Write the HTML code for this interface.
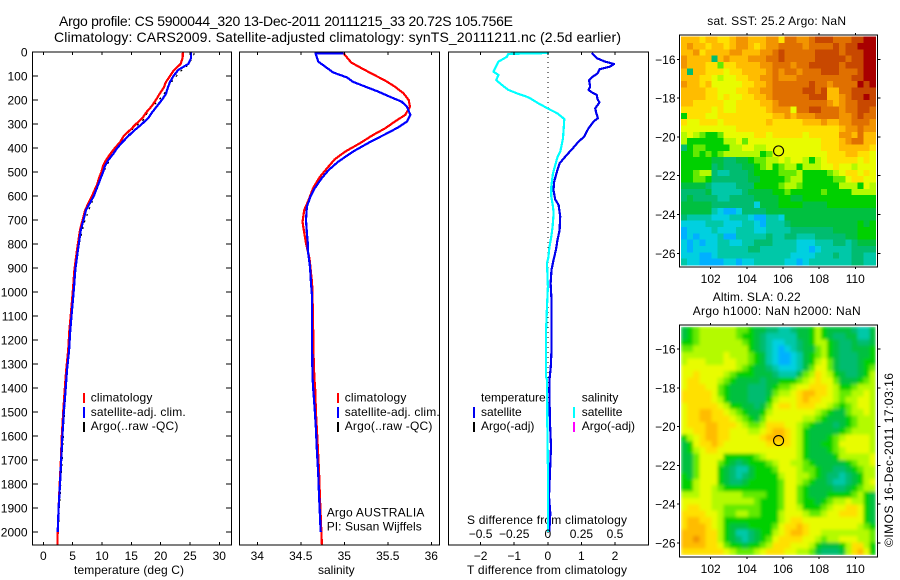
<!DOCTYPE html>
<html lang="en">
<head>
<meta charset="utf-8">
<title>Argo profile CS 5900044_320</title>
<style>
html,body{margin:0;padding:0;background:#fff;}
#chart{display:block;width:900px;height:580px;}
text{font-family:"Liberation Sans",Arial,sans-serif;font-size:12px;fill:#000;}
.title{font-size:14px;}
.crisp{shape-rendering:crispEdges;}
</style>
</head>
<body>
<svg id="chart" xmlns="http://www.w3.org/2000/svg" width="900" height="580" viewBox="0 0 900 580">
  <defs>
    <filter id="soften" x="-2%" y="-2%" width="104%" height="104%"><feGaussianBlur stdDeviation="1.6"/></filter>
    <clipPath id="sla-clip"><rect x="681" y="326.7" width="194.7" height="228.3"/></clipPath>
  </defs>
  <text class="title" x="59" y="26" textLength="454" lengthAdjust="spacing">Argo profile: CS 5900044_320 13-Dec-2011 20111215_33 20.72S 105.756E</text>
  <text class="title" x="54" y="42" textLength="567" lengthAdjust="spacing">Climatology: CARS2009. Satellite-adjusted climatology: synTS_20111211.nc (2.5d earlier)</text>

  <text x="74" y="574" textLength="110" lengthAdjust="spacing">temperature (deg C)</text>
  <text x="318" y="574">salinity</text>
  <text x="467" y="574" textLength="160" lengthAdjust="spacing">T difference from climatology</text>
  <text x="467" y="524" textLength="160" lengthAdjust="spacing">S difference from climatology</text>

  <text x="326.7" y="516.7" textLength="97.7" lengthAdjust="spacing">Argo AUSTRALIA</text>
  <text x="326.7" y="530.7" textLength="95" lengthAdjust="spacing">PI: Susan Wijffels</text>

  <g>
    <rect class="crisp" x="83" y="393" width="2" height="10" fill="#ff0000"/>
    <text x="90.7" y="401.7" textLength="61.7" lengthAdjust="spacing">climatology</text>
    <rect class="crisp" x="83" y="407" width="2" height="11" fill="#0000ff"/>
    <text x="90.7" y="416" textLength="95" lengthAdjust="spacing">satellite-adj. clim.</text>
    <rect class="crisp" x="83" y="422" width="2" height="10" fill="#000"/>
    <text x="90.7" y="430" textLength="87.7" lengthAdjust="spacing">Argo(..raw -QC)</text>
  </g>
  <g>
    <rect class="crisp" x="337" y="393" width="2" height="10" fill="#ff0000"/>
    <text x="344.7" y="401.7" textLength="61.7" lengthAdjust="spacing">climatology</text>
    <rect class="crisp" x="337" y="407" width="2" height="11" fill="#0000ff"/>
    <text x="344.7" y="416" textLength="95" lengthAdjust="spacing">satellite-adj. clim.</text>
    <rect class="crisp" x="337" y="422" width="2" height="10" fill="#000"/>
    <text x="344.7" y="430" textLength="87.7" lengthAdjust="spacing">Argo(..raw -QC)</text>
  </g>
  <g>
    <text x="481" y="401.7">temperature</text>
    <rect class="crisp" x="473" y="407" width="2" height="11" fill="#0000ee"/>
    <text x="481" y="416">satellite</text>
    <rect class="crisp" x="473" y="422" width="2" height="10" fill="#000"/>
    <text x="481" y="430">Argo(-adj)</text>
    <text x="581.7" y="401.7">salinity</text>
    <rect class="crisp" x="573" y="407" width="2" height="11" fill="#00ffff"/>
    <text x="581.7" y="416">satellite</text>
    <rect class="crisp" x="573" y="422" width="2" height="10" fill="#ff00ff"/>
    <text x="581.7" y="430">Argo(-adj)</text>
  </g>

  <text x="707.3" y="25" textLength="138.7" lengthAdjust="spacing">sat. SST: 25.2 Argo: NaN</text>
  <text x="712.7" y="301" textLength="88" lengthAdjust="spacing">Altim. SLA: 0.22</text>
  <text x="692.7" y="315" textLength="168" lengthAdjust="spacing">Argo h1000: NaN h2000: NaN</text>
  <text transform="translate(893 547) rotate(-90)" textLength="174" lengthAdjust="spacing">©IMOS 16-Dec-2011 17:03:16</text>
</svg>

<script>
/* ---------- depth axis ---------- */
const depthTicks = [0,100,200,300,400,500,600,700,800,900,1000,1100,1200,1300,1400,1500,1600,1700,1800,1900,2000];

/* ---------- temperature panel ---------- */
const tempTicks = [0,5,10,15,20,25,30];
const tempClimDepth = [0,25,50,75,100,125,150,175,200,225,250,275,300,325,350,375,400,425,450,475,500,525,550,600,658,742,825,908,992,1075,1158,1242,1325,1408,1500,1600,1700,1800,1900,2000,2054];
const tempClimValue = [23.8,23.75,23.4,22.3,21.6,20.9,20.5,19.8,19.2,18.5,17.6,16.9,15.8,14.8,13.7,13.1,12.2,11.4,10.7,10.2,9.9,9.5,9.2,8.3,7.15,6.25,5.75,5.3,5.05,4.75,4.45,4.25,3.9,3.65,3.4,3.15,3.0,2.8,2.6,2.45,2.4];
const tempSatDepth = [0,25,50,75,100,125,150,175,200,225,250,275,300,325,350,375,400,425,450,475,500,550,600,658,742,825,908,992,1075,1158,1242,1325,1408,1500,1600,1700,1800,1900,2000];
const tempSatValue = [25.2,25.2,24.7,23,22.2,21.6,21.2,20.9,20.2,19.4,18.6,17.9,16.8,15.6,14.5,13.5,12.6,11.9,11.1,10.5,10.2,9.4,8.6,7.3,6.4,5.9,5.45,5.2,4.9,4.6,4.4,4.04,3.8,3.5,3.25,3.05,2.85,2.6,2.45];
const tempArgoDepth = [6,22,54,82,124,179,200,242,280,318,346,367,380,420,500,600,700,800,900,1000,1200,1500,1700,1900,2000];
const tempArgoValue = [25.74,25.45,24.7,23.3,21.9,20.45,19.7,17.9,17.2,15.3,14.5,13.75,13.35,11.9,10.3,8.7,7.1,6.1,5.6,5.2,4.5,3.6,3.2,2.75,2.55];

/* ---------- salinity panel ---------- */
const salTicks = [34,34.5,35,35.5,36];
const salClimDepth = [5,44,68,93,119,144,172,200,228,262,290,318,346,380,415,447,485,520,568,617,658,707,755,797,860,964,1100,1242,1353,1408,1506,1575,1644,1755,1853,1964,2054];
const salClimValue = [34.99,35.08,35.2,35.33,35.47,35.58,35.68,35.74,35.755,35.7,35.58,35.47,35.33,35.18,35.01,34.89,34.8,34.72,34.64,34.59,34.54,34.52,34.54,34.56,34.6,34.63,34.64,34.645,34.655,34.665,34.675,34.685,34.695,34.71,34.72,34.732,34.742];
const salSatDepth = [5,6,40,61,85,106,124,144,165,186,207,228,262,290,314,339,374,415,457,492,526,568,603,644,700,755,797,825,895,964,1020,1242,1353,1408,1506,1575,1644,1755,1853,1964,2000];
const salSatValue = [34.99,34.67,34.7,34.78,34.87,35.03,35.1,35.24,35.39,35.52,35.66,35.72,35.76,35.72,35.62,35.49,35.3,35.1,34.93,34.82,34.74,34.66,34.61,34.57,34.56,34.57,34.58,34.58,34.606,34.617,34.63,34.63,34.634,34.644,34.663,34.675,34.683,34.7,34.71,34.724,34.729];

/* ---------- difference panel ---------- */
const diffTTicks = [-2,-1,0,1,2];
const diffSTicks = [-0.5,-0.25,0,0.25,0.5];
const diffTDepth = [5,26,40,50,61,72,89,106,117,144,158,168,179,197,210,235,253,276,290,318,353,374,397,436,464,499,540,575,614,637,686,742,783,825,867,908,964,1033,1242,1311,1360,1408,1547,1644,1728,1853,1922,2000];
const diffTValue = [1.31,1.46,1.7,1.97,1.85,1.54,1.48,1.31,1.23,1.26,1.21,1.31,1.46,1.48,1.54,1.41,1.44,1.49,1.36,1.21,1.08,0.91,0.77,0.52,0.35,0.27,0.19,0.17,0.22,0.32,0.37,0.35,0.29,0.24,0.17,0.11,0.083,0.11,0.11,0.09,0.054,0.044,0.065,0.095,0.07,0.036,0.074,0.044];
const diffSDepth = [4,8,20,40,82,96,117,137,158,172,189,214,237,255,279,318,360,415,436,471,505,561,603,644,672,728,769,811,860,880,978,1061,1158,1353,1367,1547,1728,2000];
const diffSValue = [0.01,-0.293,-0.304,-0.367,-0.404,-0.367,-0.384,-0.342,-0.293,-0.23,-0.143,-0.069,0.006,0.069,0.123,0.118,0.113,0.093,0.073,0.056,0.039,0.026,0.026,0.039,0.043,0.036,0.026,0.013,0.003,-0.006,0.001,-0.006,-0.013,-0.013,-0.006,-0.004,0.001,0.002];

/* ---------- maps ---------- */
const lonTicks = [102,104,106,108,110];
const latTicks = [-16,-18,-20,-22,-24,-26];
const floatLon = [105.756];
const floatLat = [-20.72];
const paletteColors = ["#0066ee","#00b0ff","#00d0e0","#00c8a8","#00bc70","#00c040","#00d000","#64ea00","#b4fa00","#e8fc00","#ffe000","#ffbc00","#f29400","#e07000","#c84800","#a80000"];

const sstGrid = [
[11,11,11,10,11,11,10,10,11,12,12,11,11,11,12,12,10,13,13,12,12,13,14,14,14,13,13,13,14,14,15,15],
[11,12,11,11,10,11,11,10,11,12,12,11,10,11,12,12,13,13,13,13,12,13,13,13,13,14,13,14,14,15,15,15],
[11,11,12,10,11,11,11,11,12,12,11,11,11,12,12,13,14,13,13,13,13,13,14,14,14,14,13,14,14,14,15,15],
[12,11,11,11,11,4,11,12,11,11,11,12,12,12,13,13,14,13,13,13,13,13,14,14,14,14,14,13,14,14,15,15],
[12,11,11,11,10,10,7,10,10,11,11,11,11,12,12,13,13,13,12,13,13,14,14,14,14,14,13,14,14,14,15,15],
[11,4,11,11,10,10,10,9,10,10,11,11,11,11,12,13,12,13,13,12,13,13,13,14,14,14,13,13,13,14,15,15],
[11,11,11,10,10,9,8,9,9,10,10,11,11,12,12,13,12,12,12,13,13,13,13,13,13,13,13,13,14,14,15,15],
[12,11,11,10,11,9,9,9,9,9,10,10,11,11,12,13,13,13,13,13,13,14,13,13,12,13,13,13,13,15,14,15],
[11,11,11,11,10,10,9,9,9,10,10,11,11,12,12,13,13,13,13,13,14,14,13,14,11,11,13,13,14,14,14,14],
[11,11,11,11,10,10,9,10,9,9,10,10,11,11,12,13,13,13,13,13,13,14,14,14,11,11,12,13,14,14,15,14],
[11,11,10,10,10,10,10,9,9,10,10,10,10,11,11,12,13,13,13,13,13,13,13,13,12,11,12,13,13,14,14,14],
[10,10,10,10,10,9,10,9,9,10,10,10,10,10,11,12,12,12,9,13,13,14,14,13,13,13,12,13,13,14,14,13],
[6,10,10,10,9,9,10,10,10,10,10,10,10,10,10,11,11,12,11,12,12,12,13,13,13,13,12,12,13,14,13,13],
[10,9,9,10,10,10,9,10,10,10,10,10,10,10,11,10,10,10,10,10,11,11,11,12,11,11,12,12,13,13,13,12],
[9,9,9,9,9,9,9,9,9,10,10,10,10,10,10,10,10,10,10,10,10,10,10,10,10,10,11,12,12,13,12,12],
[8,9,8,7,6,6,7,9,9,9,9,9,10,10,9,10,10,10,10,10,9,10,10,10,10,10,12,12,11,13,11,11],
[8,6,6,6,6,6,6,8,8,9,7,9,9,9,9,9,9,9,9,9,9,9,9,10,10,10,11,12,13,13,11,11],
[4,6,7,7,6,6,6,6,8,8,9,9,8,8,9,9,9,9,9,9,9,9,9,10,10,10,11,11,11,11,11,10],
[6,6,7,6,7,6,7,8,8,8,8,8,8,6,7,9,9,9,9,9,9,9,9,9,10,10,10,11,11,10,10,9],
[6,6,6,6,6,5,5,4,4,5,5,6,7,7,8,8,9,8,9,9,8,6,8,9,10,10,10,10,10,9,10,9],
[6,6,6,6,6,4,5,4,4,4,5,5,6,7,8,6,7,8,8,6,8,8,8,9,9,10,9,9,8,9,9,9],
[6,6,7,8,8,4,3,3,4,4,4,5,6,6,6,6,7,7,7,8,6,6,6,6,7,8,9,10,10,9,10,9],
[6,6,7,7,6,4,4,4,4,4,4,5,5,6,6,6,6,7,8,8,6,6,6,6,6,7,7,9,10,10,9,9],
[5,5,5,5,4,3,3,3,3,4,4,4,6,6,6,6,7,8,8,7,6,6,6,6,6,6,8,8,8,6,9,8],
[4,4,4,4,5,3,3,3,3,3,4,5,5,5,5,6,6,7,6,6,6,6,6,7,6,6,6,6,8,8,8,8],
[4,5,4,4,4,4,3,3,4,4,4,4,5,5,5,5,6,6,5,5,6,6,6,6,6,6,6,6,6,6,6,6],
[5,5,5,5,5,4,4,4,4,4,4,4,2,5,5,5,6,6,6,6,5,5,5,5,6,6,6,6,6,6,6,6],
[5,5,5,5,5,3,2,1,1,2,4,4,4,4,5,5,5,5,5,5,5,5,5,5,5,5,5,5,5,5,5,5],
[4,3,3,3,3,2,2,2,3,3,3,2,1,1,3,3,2,5,5,5,5,5,5,5,5,5,5,5,5,5,5,5],
[2,2,2,2,3,3,3,2,2,2,3,3,2,1,3,3,3,4,5,5,5,5,5,5,5,5,5,5,5,6,5,6],
[1,2,2,2,2,3,2,2,2,3,3,3,2,2,3,3,3,3,4,4,4,4,4,4,4,5,5,5,5,6,6,6],
[1,2,1,2,2,2,3,1,1,3,3,3,3,3,4,3,3,4,4,3,3,3,4,4,4,4,4,5,5,6,6,6],
[2,1,2,1,2,2,3,3,2,2,3,3,4,4,4,3,3,3,3,2,2,2,3,3,3,4,4,3,4,5,5,5],
[2,1,2,2,2,2,3,3,3,3,3,4,4,3,3,3,3,3,3,2,2,1,2,3,3,3,3,3,4,4,4,4],
[2,2,2,1,1,2,3,3,3,3,3,3,3,3,3,3,3,3,2,2,2,2,3,3,3,4,3,3,4,4,3,3],
[3,2,2,1,1,1,1,2,2,1,2,2,3,3,3,3,3,2,2,1,2,3,3,3,3,3,3,3,4,4,3,3]
];

const slaGrid = [
[5,6,7,8,8,8,8,8,8,7,7,6,5,5,4,4,3,3,4,5,5,6,8,6,5,5,5,5,4,3,3,5],
[5,6,7,8,8,8,8,8,8,7,6,6,5,4,3,3,3,3,3,5,5,6,8,6,5,4,4,5,5,3,3,5],
[6,6,7,8,8,8,8,8,8,8,7,6,5,4,3,2,2,3,3,4,5,6,8,8,6,5,4,4,5,4,4,5],
[7,7,8,8,8,8,8,8,8,8,8,6,5,4,3,2,1,2,3,4,5,5,7,8,6,5,4,4,5,5,5,6],
[8,8,8,8,8,8,8,9,8,8,8,7,6,5,3,2,1,1,2,3,5,6,7,8,6,5,4,4,4,5,5,6],
[8,9,9,9,8,8,8,9,9,8,8,7,6,5,3,2,1,1,2,3,5,6,8,9,7,5,4,4,4,5,6,6],
[9,9,9,9,9,9,9,9,9,8,7,6,5,5,4,3,2,2,2,3,5,7,9,9,7,5,4,4,4,5,6,7],
[9,9,10,9,9,9,9,8,7,6,6,6,5,5,5,4,3,3,3,5,7,8,10,9,8,6,5,4,4,5,6,8],
[9,10,10,9,9,9,8,7,6,5,5,5,5,4,5,5,6,6,6,7,8,9,10,9,9,7,5,5,5,6,7,8],
[9,10,10,10,9,9,7,6,5,5,5,4,4,4,5,6,7,7,8,9,9,10,10,10,9,8,6,6,7,8,8,8],
[10,10,10,10,10,9,7,6,5,5,5,4,4,4,5,7,8,8,9,10,11,11,10,10,9,8,7,7,8,8,9,8],
[10,10,10,10,10,9,8,6,5,5,5,4,4,4,6,8,9,9,9,10,11,10,10,9,9,8,7,8,8,9,9,8],
[9,10,10,10,10,10,9,8,6,6,5,5,4,5,7,9,10,10,9,10,10,10,9,9,8,7,6,7,8,9,9,8],
[9,10,10,11,11,10,10,9,8,7,6,5,5,6,8,9,9,9,9,9,9,9,8,7,6,5,5,7,8,8,9,8],
[9,10,10,11,11,10,10,10,9,8,7,6,5,7,9,9,9,9,9,9,8,8,7,6,5,5,5,6,7,8,8,8],
[9,10,10,10,11,11,10,10,10,9,8,7,7,8,10,10,10,9,9,8,7,6,5,5,5,4,5,6,7,8,8,8],
[9,9,10,10,11,11,10,10,9,9,9,8,8,9,10,11,11,10,9,8,6,5,5,5,5,5,6,7,8,8,8,8],
[6,8,9,10,11,11,10,10,9,9,9,9,9,10,11,11,11,10,9,8,6,5,5,5,6,7,8,9,9,9,9,8],
[5,6,9,10,10,11,10,9,9,9,9,9,9,9,10,10,10,10,9,8,6,5,5,6,6,7,9,9,9,9,9,8],
[5,6,8,9,10,10,9,9,9,9,9,9,9,9,9,9,9,9,9,8,6,5,5,5,6,7,8,9,9,9,9,8],
[5,5,7,9,9,9,9,6,6,6,6,6,7,8,9,9,9,9,9,8,6,5,5,5,5,6,8,8,8,8,8,9],
[5,5,7,9,9,9,7,6,5,4,5,6,6,6,7,8,9,9,8,8,7,6,5,5,5,5,5,6,7,8,8,9],
[5,5,7,9,9,9,6,5,4,3,3,5,6,6,6,7,9,9,9,8,7,7,6,5,5,4,4,5,6,7,8,8],
[6,5,7,9,9,9,6,5,4,3,4,5,6,6,6,6,8,9,9,8,8,7,6,5,4,4,3,4,5,6,8,8],
[6,6,8,9,9,9,6,5,4,4,5,6,6,6,6,6,7,9,9,8,7,6,5,5,4,3,3,4,5,6,8,9],
[6,6,8,9,9,8,7,6,6,6,6,6,6,6,6,6,7,9,9,7,6,5,5,5,5,4,4,5,6,7,8,8],
[8,8,8,9,9,8,8,8,8,8,7,7,7,7,6,6,7,9,9,7,6,5,5,5,6,6,6,6,7,8,6,5],
[9,9,9,9,9,8,8,8,8,8,8,8,7,6,6,6,7,9,9,7,6,6,5,6,7,8,8,9,8,8,6,5],
[9,10,10,9,9,8,8,7,7,7,7,7,7,6,6,6,7,9,9,8,6,6,6,7,8,9,9,10,10,9,6,5],
[10,10,10,10,9,9,8,7,7,8,8,7,7,6,6,6,8,9,9,9,8,7,7,8,9,9,10,10,10,9,6,5],
[10,11,11,10,10,9,8,6,6,6,6,6,6,6,6,6,8,9,10,10,9,9,9,9,9,9,9,9,9,9,6,5],
[10,11,11,11,10,9,8,6,5,5,5,6,6,6,6,7,9,10,10,11,10,9,9,9,9,9,9,9,9,8,7,6],
[11,11,11,11,10,10,8,6,5,3,3,4,5,6,6,8,9,10,11,11,10,9,9,8,8,8,8,8,8,8,8,7],
[11,11,12,11,10,10,8,6,5,4,3,4,5,6,7,9,10,10,10,10,9,9,8,7,8,8,9,9,9,8,8,7],
[11,11,11,11,10,10,9,7,6,6,5,6,6,7,8,10,10,10,9,9,9,8,6,5,5,5,6,8,10,10,8,6],
[10,10,10,10,10,10,10,9,8,7,7,7,8,9,10,10,10,9,9,8,8,7,5,4,4,4,5,8,10,11,9,6]
];

/* ---------- helpers ---------- */
const NS = "http://www.w3.org/2000/svg";
const svg = document.getElementById("chart");

function make(tag, attrs, parent, txt) {
  const el = document.createElementNS(NS, tag);
  for (const k in attrs) el.setAttribute(k, attrs[k]);
  if (txt !== undefined) el.textContent = txt;
  parent.appendChild(el);
  return el;
}
function fmt(v) { return String(v).replace("-", "\u2212"); }

/* axis functions */
const yDepth = d => 52 + d * 0.24;
const xTemp = t => 43.3 + t * 5.867;
const xSal = s => 257.3 + (s - 34) * 87;
const xDiffT = t => 547.8 + t * 33.6;
const xDiffS = s => 547.8 + s * 134.4;
const lonX = lon => 710.7 + (lon - 102) * 18.07;
const latYTop = lat => 59.3 + (-16 - lat) * 19.4;
const latYBottom = lat => 349 + (-16 - lat) * 19.4;

function series(parent, depths, values, xFn, color, width, dash, name) {
  const pts = depths.map((d, i) => xFn(values[i]).toFixed(1) + "," + yDepth(d).toFixed(1)).join(" ");
  const attrs = {points: pts, fill: "none", stroke: color, "stroke-width": width, "stroke-linejoin": "round", "shape-rendering": "crispEdges"};
  if (dash) attrs["stroke-dasharray"] = dash;
  const line = make("polyline", attrs, parent);
  
  
  return line;
}

function box(parent, x0, y0, x1, y1, name) {
  const r = make("rect", {x: x0, y: y0, width: x1 - x0, height: y1 - y0, fill: "none", stroke: "#000", "stroke-width": 1.4, "shape-rendering": "crispEdges"}, parent);
  
  
}

function tick(parent, x1, y1, x2, y2) {
  const t = make("line", {x1: x1, y1: y1, x2: x2, y2: y2, stroke: "#000", "stroke-width": 1, "shape-rendering": "crispEdges"}, parent);
  
  
}

function label(parent, x, y, s, anchor) {
  const t = make("text", {x: x, y: y, "text-anchor": anchor}, parent, s);
  
  
}

const TOP = 52, BOTTOM = 545;

/* ---------- panel 1: temperature ---------- */
const p1 = make("g", {}, svg);


series(p1, tempArgoDepth, tempArgoValue, xTemp, "#000", 1.2, "2 5", "argo-temperature-line");
series(p1, tempClimDepth, tempClimValue, xTemp, "#ff0000", 2.2, null, "climatology-temperature-line");
series(p1, tempSatDepth, tempSatValue, xTemp, "#0000ff", 2.2, null, "satellite-temperature-line");
box(p1, 32.5, TOP, 231.5, BOTTOM, "temperature-axes-frame");
depthTicks.forEach(d => {
  tick(p1, 32.5, yDepth(d), 38, yDepth(d));
  tick(p1, 226, yDepth(d), 231.5, yDepth(d));
  label(p1, 27.5, yDepth(d) + 4.5, String(d), "end");
});
tempTicks.forEach(t => {
  tick(p1, xTemp(t), TOP, xTemp(t), TOP + 3);
  tick(p1, xTemp(t), BOTTOM - 3, xTemp(t), BOTTOM);
  label(p1, xTemp(t), 560, String(t), "middle");
});

/* ---------- panel 2: salinity ---------- */
const p2 = make("g", {}, svg);


series(p2, salClimDepth, salClimValue, xSal, "#ff0000", 2.2, null, "climatology-salinity-line");
series(p2, salSatDepth, salSatValue, xSal, "#0000ff", 2.2, null, "satellite-salinity-line");
box(p2, 239.5, TOP, 439.5, BOTTOM, "salinity-axes-frame");
salTicks.forEach(s => {
  tick(p2, xSal(s), TOP, xSal(s), TOP + 3);
  tick(p2, xSal(s), BOTTOM - 3, xSal(s), BOTTOM);
  label(p2, xSal(s), 560, String(s), "middle");
});

/* ---------- panel 3: differences ---------- */
const p3 = make("g", {}, svg);


const zero = make("line", {x1: xDiffT(0), y1: TOP, x2: xDiffT(0), y2: BOTTOM, stroke: "#000", "stroke-width": 1, "stroke-dasharray": "1 4", "shape-rendering": "crispEdges"}, p3);


series(p3, diffTDepth, diffTValue, xDiffT, "#0000ee", 2.2, null, "satellite-t-difference-line");
series(p3, diffSDepth, diffSValue, xDiffS, "#00ffff", 2.2, null, "satellite-s-difference-line");
box(p3, 448.5, TOP, 648.5, BOTTOM, "difference-axes-frame");
diffTTicks.forEach(t => {
  tick(p3, xDiffT(t), TOP, xDiffT(t), TOP + 3);
  tick(p3, xDiffT(t), BOTTOM - 3, xDiffT(t), BOTTOM);
  label(p3, xDiffT(t), 560, fmt(t), "middle");
});
diffSTicks.forEach(s => {
  label(p3, xDiffS(s), 538, fmt(s), "middle");
});

/* ---------- maps ---------- */
function drawMap(grid, latY, frameTop, frameBottom, imgTop, imgBottom, labelBase, name, smooth) {
  const g = make("g", {}, svg);
  
  
  const outer = make("g", smooth ? {"clip-path": "url(#sla-clip)"} : {}, g);
  
  
  const cells = make("g", smooth ? {filter: "url(#soften)"} : {}, outer);
  
  
  const rows = grid.length, cols = grid[0].length;
  const lonStart = 100.36, lonEnd = 111.13;
  const cellLon = (lonEnd - lonStart) / cols;
  const latTop = -16 + (latY(-16) - imgTop) / 19.4;
  const cellLat = (imgBottom - imgTop) / 19.4 / rows;
  grid.forEach((row, r) => {
    row.forEach((v, c) => {
      const x0 = lonX(lonStart + c * cellLon), x1 = lonX(lonStart + (c + 1) * cellLon);
      const y0 = latY(latTop - r * cellLat), y1 = latY(latTop - (r + 1) * cellLat);
      const cell = make("rect", {x: x0.toFixed(2), y: y0.toFixed(2), width: (x1 - x0 + 0.4).toFixed(2), height: (y1 - y0 + 0.4).toFixed(2), fill: paletteColors[v], "shape-rendering": "crispEdges"}, cells);
      
      
    });
  });
  box(g, 679.5, frameTop, 877.5, frameBottom, name + "-frame");
  lonTicks.forEach(lon => {
    tick(g, lonX(lon), frameTop - 2, lonX(lon), frameTop);
    tick(g, lonX(lon), frameBottom, lonX(lon), frameBottom + 2);
    label(g, lonX(lon), labelBase, String(lon), "middle");
  });
  latTicks.forEach(lat => {
    tick(g, 677, latY(lat), 679.5, latY(lat));
    tick(g, 877.5, latY(lat), 880.5, latY(lat));
    label(g, 675.5, latY(lat) + 4.5, fmt(lat), "end");
  });
  const marker = make("circle", {cx: lonX(floatLon[0]), cy: latY(floatLat[0]), r: 5, fill: "none", stroke: "#000", "stroke-width": 1.1}, g);
  
  
}
drawMap(sstGrid, latYTop, 35, 267, 36.7, 265, 283, "sst-map", false);
drawMap(slaGrid, latYBottom, 325, 557, 326.7, 555, 573, "sla-map", true);
</script>
</body>
</html>
